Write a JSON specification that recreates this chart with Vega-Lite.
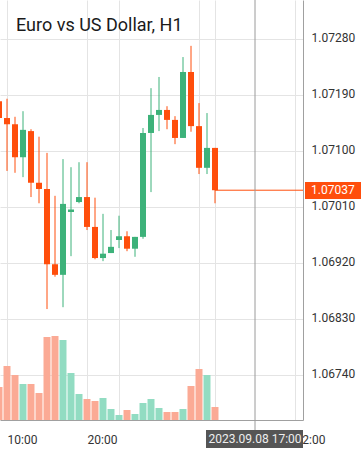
{
  "$schema": "https://vega.github.io/schema/vega-lite/v6.json",
  "width": 303,
  "height": 420,
  "autosize": {"type": "none"},
  "padding": {"left": 0, "top": 0, "right": 58, "bottom": 35},
  "background": "white",
  "config": {"view": {"stroke": null}, "font": "Roboto", "scale": {"continuousPadding": 0}},
  "title": {"text": "Euro vs US Dollar, H1", "anchor": "start", "frame": "group", "orient": "top", "baseline": "alphabetic", "offset": 0, "dx": 16, "dy": 49, "fontSize": 18, "font": "Roboto", "fontWeight": "normal", "color": "#1a1a1a"},
  "datasets": {
    "candles": [
      {"t": "2023-09-07T09:00:00Z", "o": 1.07180, "h": 1.07185, "l": 1.07147, "c": 1.07153, "v": 990},
      {"t": "2023-09-07T10:00:00Z", "o": 1.07153, "h": 1.07184, "l": 1.07068, "c": 1.07143, "v": 1620},
      {"t": "2023-09-07T11:00:00Z", "o": 1.07143, "h": 1.07155, "l": 1.07065, "c": 1.07090, "v": 1350},
      {"t": "2023-09-07T12:00:00Z", "o": 1.07090, "h": 1.07164, "l": 1.07058, "c": 1.07134, "v": 1080},
      {"t": "2023-09-07T13:00:00Z", "o": 1.07132, "h": 1.07135, "l": 1.07026, "c": 1.07049, "v": 1080},
      {"t": "2023-09-07T14:00:00Z", "o": 1.07049, "h": 1.07123, "l": 1.07016, "c": 1.07039, "v": 810},
      {"t": "2023-09-07T15:00:00Z", "o": 1.07039, "h": 1.07097, "l": 1.06846, "c": 1.06918, "v": 2490},
      {"t": "2023-09-07T16:00:00Z", "o": 1.06918, "h": 1.07028, "l": 1.06898, "c": 1.06901, "v": 2520},
      {"t": "2023-09-07T17:00:00Z", "o": 1.06901, "h": 1.07087, "l": 1.06849, "c": 1.07015, "v": 2400},
      {"t": "2023-09-07T18:00:00Z", "o": 1.07002, "h": 1.07074, "l": 1.06931, "c": 1.07005, "v": 1410},
      {"t": "2023-09-07T19:00:00Z", "o": 1.07018, "h": 1.07082, "l": 1.07016, "c": 1.07026, "v": 780},
      {"t": "2023-09-07T20:00:00Z", "o": 1.07026, "h": 1.07082, "l": 1.06973, "c": 1.06978, "v": 630},
      {"t": "2023-09-07T21:00:00Z", "o": 1.06978, "h": 1.07025, "l": 1.06926, "c": 1.06928, "v": 570},
      {"t": "2023-09-07T22:00:00Z", "o": 1.06928, "h": 1.06999, "l": 1.06923, "c": 1.06935, "v": 660},
      {"t": "2023-09-07T23:00:00Z", "o": 1.06936, "h": 1.06973, "l": 1.06936, "c": 1.06946, "v": 330},
      {"t": "2023-09-08T00:00:00Z", "o": 1.06957, "h": 1.06996, "l": 1.06944, "c": 1.06963, "v": 150},
      {"t": "2023-09-08T01:00:00Z", "o": 1.06963, "h": 1.06971, "l": 1.06939, "c": 1.06943, "v": 300},
      {"t": "2023-09-08T02:00:00Z", "o": 1.06943, "h": 1.06962, "l": 1.06930, "c": 1.06962, "v": 180},
      {"t": "2023-09-08T03:00:00Z", "o": 1.06962, "h": 1.07137, "l": 1.06959, "c": 1.07129, "v": 510},
      {"t": "2023-09-08T04:00:00Z", "o": 1.07129, "h": 1.07201, "l": 1.07034, "c": 1.07158, "v": 630},
      {"t": "2023-09-08T05:00:00Z", "o": 1.07158, "h": 1.07219, "l": 1.07132, "c": 1.07166, "v": 360},
      {"t": "2023-09-08T06:00:00Z", "o": 1.07166, "h": 1.07172, "l": 1.07135, "c": 1.07150, "v": 240},
      {"t": "2023-09-08T07:00:00Z", "o": 1.07150, "h": 1.07156, "l": 1.07111, "c": 1.07121, "v": 240},
      {"t": "2023-09-08T08:00:00Z", "o": 1.07121, "h": 1.07251, "l": 1.07121, "c": 1.07227, "v": 330},
      {"t": "2023-09-08T09:00:00Z", "o": 1.07227, "h": 1.07269, "l": 1.07131, "c": 1.07140, "v": 1020},
      {"t": "2023-09-08T10:00:00Z", "o": 1.07140, "h": 1.07177, "l": 1.07063, "c": 1.07073, "v": 1530},
      {"t": "2023-09-08T11:00:00Z", "o": 1.07073, "h": 1.07161, "l": 1.07063, "c": 1.07105, "v": 1350},
      {"t": "2023-09-08T12:00:00Z", "o": 1.07105, "h": 1.07105, "l": 1.07016, "c": 1.07037, "v": 390}
    ],
    "last": [{"t": "2023-09-08T12:00:00Z", "t2": "2023-09-08T23:00:00Z", "p": 1.07037, "tagStart": "2023-09-08T23:15:00Z", "tagEnd": "2023-09-09T06:15:00Z", "textT": "2023-09-09T00:00:00Z", "pHi": 1.070502, "pLo": 1.070229, "label": "1.07037"}],
    "cross": [{"t": "2023-09-08T17:00:00Z", "boxStart": "2023-09-08T10:52:30Z", "boxEnd": "2023-09-08T23:00:00Z", "top": 1.073427, "bottom": 1.066516, "boxBottom": 1.066227, "textP": 1.066372, "label": "2023.09.08 17:00"}]
  },
  "resolve": {"scale": {"y": "independent"}},
  "layer": [
    {
      "data": {"name": "candles"},
      "mark": {"type": "bar", "size": 7},
      "encoding": {
        "x": {"field": "t", "type": "temporal", "title": null, "scale": {"type": "utc", "padding": 0, "domain": ["2023-09-07T09:07:30Z", "2023-09-08T23:00:00Z"]}},
        "y": {"field": "v", "type": "quantitative", "scale": {"domain": [0, 12600]}, "axis": null},
        "color": {"condition": {"test": "datum.c >= datum.o", "value": "#92dcc2"}, "value": "#fbaa95"}
      }
    },
    {
      "layer": [
        {
          "data": {"name": "candles"},
          "mark": {"type": "rule", "strokeWidth": 1},
          "encoding": {
            "x": {"field": "t", "type": "temporal", "title": null, "scale": {"type": "utc", "padding": 0, "domain": ["2023-09-07T09:07:30Z", "2023-09-08T23:00:00Z"]}},
            "y": {"field": "l", "type": "quantitative", "title": null, "scale": {"domain": [1.066677, 1.073427], "zero": false, "nice": false}},
            "y2": {"field": "h"},
            "color": {"condition": {"test": "datum.c >= datum.o", "value": "#3db27a"}, "value": "#ff4e0c"}
          }
        },
        {
          "data": {"name": "candles"},
          "transform": [{"calculate": "abs(datum.c - datum.o) < 0.00004 ? datum.o + (datum.c >= datum.o ? 0.00004 : -0.00004) : datum.c", "as": "cb"}],
          "mark": {"type": "bar", "size": 6},
          "encoding": {
            "x": {"field": "t", "type": "temporal", "title": null, "scale": {"type": "utc", "padding": 0, "domain": ["2023-09-07T09:07:30Z", "2023-09-08T23:00:00Z"]},
              "axis": {
                "values": [
                  {"year": 2023, "month": 9, "date": 7, "hours": 10, "utc": true},
                  {"year": 2023, "month": 9, "date": 7, "hours": 20, "utc": true},
                  {"year": 2023, "month": 9, "date": 8, "hours": 0, "utc": true},
                  {"year": 2023, "month": 9, "date": 8, "hours": 10, "utc": true},
                  {"year": 2023, "month": 9, "date": 8, "hours": 12, "utc": true},
                  {"year": 2023, "month": 9, "date": 8, "hours": 22, "utc": true}
                ],
                "labelExpr": "(utchours(datum.value) == 10 && utcdate(datum.value) == 7) || utchours(datum.value) >= 20 ? utcFormat(datum.value, '%H:%M') : ''",
                "grid": true, "gridColor": "#e4e4e4", "ticks": false, "domainColor": "#a0a0a0",
                "labelAlign": "left", "labelPadding": 14, "labelFontSize": 12, "labelColor": "#333333", "labelFont": "Roboto",
                "labelOverlap": false, "labelFlush": false
              }
            },
            "y": {"field": "o", "type": "quantitative", "title": null, "scale": {"domain": [1.066677, 1.073427], "zero": false, "nice": false},
              "axis": {
                "orient": "right",
                "values": [1.0674, 1.0683, 1.0692, 1.0701, 1.071, 1.0719, 1.0728],
                "format": ".5f", "grid": true, "gridColor": "#e4e4e4", "ticks": false, "domainColor": "#a0a0a0",
                "labelPadding": 8, "labelFontSize": 12, "labelColor": "#333333", "labelFont": "Roboto", "labelOffset": -2,
                "labelOverlap": false, "labelFlush": false
              }
            },
            "y2": {"field": "cb"},
            "color": {"condition": {"test": "datum.c >= datum.o", "value": "#3db27a"}, "value": "#ff4e0c"}
          }
        },
        {
          "data": {"name": "last"},
          "mark": {"type": "rule", "color": "#ff4e0c", "strokeWidth": 1},
          "encoding": {
            "x": {"field": "t", "type": "temporal", "title": null, "scale": {"type": "utc", "padding": 0, "domain": ["2023-09-07T09:07:30Z", "2023-09-08T23:00:00Z"]}},
            "x2": {"field": "t2"},
            "y": {"field": "p", "type": "quantitative", "title": null}
          }
        },
        {
          "data": {"name": "last"},
          "mark": {"type": "rect", "color": "#ff4e0c"},
          "encoding": {
            "x": {"field": "tagStart", "type": "temporal", "title": null, "scale": {"type": "utc", "padding": 0, "domain": ["2023-09-07T09:07:30Z", "2023-09-08T23:00:00Z"]}},
            "x2": {"field": "tagEnd"},
            "y": {"field": "pHi", "type": "quantitative", "title": null},
            "y2": {"field": "pLo"}
          }
        },
        {
          "data": {"name": "last"},
          "mark": {"type": "text", "color": "white", "align": "left", "baseline": "middle", "fontSize": 12, "font": "Roboto"},
          "encoding": {
            "x": {"field": "textT", "type": "temporal", "title": null, "scale": {"type": "utc", "padding": 0, "domain": ["2023-09-07T09:07:30Z", "2023-09-08T23:00:00Z"]}},
            "y": {"field": "p", "type": "quantitative", "title": null},
            "text": {"field": "label"}
          }
        },
        {
          "data": {"name": "cross"},
          "mark": {"type": "rule", "color": "#9a9a9a", "strokeWidth": 1},
          "encoding": {
            "x": {"field": "t", "type": "temporal", "title": null, "scale": {"type": "utc", "padding": 0, "domain": ["2023-09-07T09:07:30Z", "2023-09-08T23:00:00Z"]}},
            "y": {"field": "top", "type": "quantitative", "title": null},
            "y2": {"field": "bottom"}
          }
        },
        {
          "data": {"name": "cross"},
          "mark": {"type": "rect", "color": "#555555"},
          "encoding": {
            "x": {"field": "boxStart", "type": "temporal", "title": null, "scale": {"type": "utc", "padding": 0, "domain": ["2023-09-07T09:07:30Z", "2023-09-08T23:00:00Z"]}},
            "x2": {"field": "boxEnd"},
            "y": {"field": "bottom", "type": "quantitative", "title": null},
            "y2": {"field": "boxBottom"}
          }
        },
        {
          "data": {"name": "cross"},
          "mark": {"type": "text", "color": "#eeeeee", "align": "center", "baseline": "middle", "fontSize": 12, "font": "Roboto"},
          "encoding": {
            "x": {"field": "t", "type": "temporal", "title": null, "scale": {"type": "utc", "padding": 0, "domain": ["2023-09-07T09:07:30Z", "2023-09-08T23:00:00Z"]}},
            "y": {"field": "textP", "type": "quantitative", "title": null},
            "text": {"field": "label"}
          }
        }
      ]
    }
  ]
}
